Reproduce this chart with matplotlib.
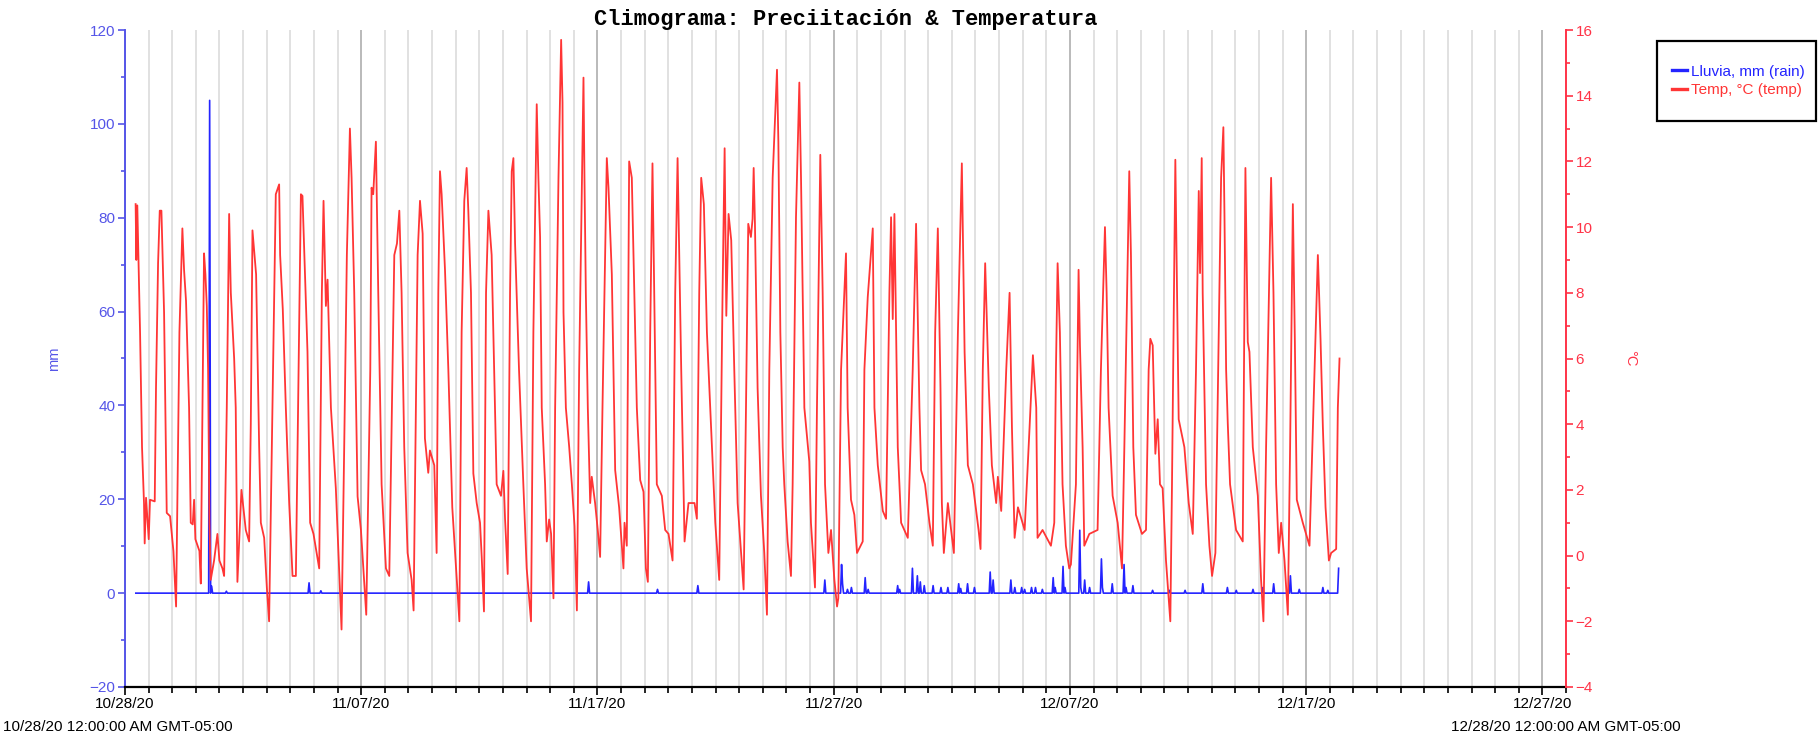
import numpy as np
import pandas as pd
import matplotlib
matplotlib.use("Agg")
import matplotlib.pyplot as plt
import matplotlib.dates as mdates
from matplotlib.patches import Rectangle
from matplotlib.ticker import MultipleLocator, FixedLocator
from matplotlib.lines import Line2D

# ---- data -------------------------------------------------------------
START = np.datetime64("2020-10-28T00:00")
END = np.datetime64("2020-12-28T00:00")

# temperature record: hours since 10/28/20 00:00 and degrees C
temp_hours = np.array([
    10.8, 11.5, 12.5, 15.3, 17.3, 19.3, 20.0, 21.4, 24.1, 25.4, 30.2,
    31.5, 33.6, 35.3, 37.0, 39.7, 41.0, 42.4, 45.8, 49.2, 51.9,
    55.3, 58.3, 60.0, 62.0, 65.1, 66.8, 68.8, 70.2, 71.5, 75.6, 77.0,
    78.3, 80.3, 81.7, 83.1, 84.4, 85.8, 87.1, 90.5, 93.9, 95.9, 99.0, 100.7,
    103.4, 105.8, 107.5, 110.9, 112.5, 114.2, 118.3, 122.7, 126.1,
    127.8, 129.5, 133.2, 136.3, 138.0, 141.4, 144.1, 146.4,
    149.8, 153.2, 156.6, 157.6, 160.3, 163.4, 166.8, 170.2, 173.6,
    176.5, 178.7, 180.3, 185.4, 188.1, 191.5, 197.3,
    200.0, 201.7, 204.1, 205.8, 209.2, 214.2, 217.6, 220.0,
    222.7, 225.4, 228.5, 230.2, 232.9, 236.3, 239.7, 243.7, 245.1,
    249.2, 250.5, 252.2, 254.9, 257.3, 260.7, 265.1, 268.5,
    273.6, 276.3, 278.7, 281.0, 283.7, 287.1, 291.2, 293.2,
    297.3, 299.7, 302.4, 304.7, 308.1, 309.8, 314.2, 316.6,
    318.3, 320.0, 321.7, 325.1, 328.5, 332.5, 335.9, 339.7,
    342.0, 344.7, 347.1, 348.8, 351.5, 353.9, 357.3, 360.7, 362.4, 364.7,
    366.8, 369.2, 372.5, 377.6, 382.0, 384.4, 386.1, 388.8,
    391.2, 392.9, 394.6, 396.3, 400.3, 404.7, 408.1, 412.5,
    414.9, 418.3, 420.0, 421.7, 423.4, 426.8, 428.5, 430.9, 432.9, 435.3,
    437.0, 440.4, 443.1, 444.5, 445.5, 447.9, 451.3, 454.0, 456.7, 459.1,
    461.4, 465.8, 466.8, 468.2, 470.2, 472.6, 474.2, 477.6, 480.3, 482.7,
    485.1, 489.5, 491.2, 494.6, 498.0, 502.0, 506.4, 507.5, 509.8,
    512.2, 514.9, 516.6, 520.0, 523.4, 526.8, 529.2, 531.2,
    533.6, 535.9, 537.3, 540.3, 545.4, 548.8, 552.2, 556.3,
    559.0, 561.4, 565.1, 568.5, 572.5, 578.6, 581.0,
    583.4, 585.4, 588.1, 591.2, 596.3, 599.7, 603.7,
    607.1, 609.2, 610.9, 613.2, 615.9, 619.0, 622.4, 625.1, 628.5,
    630.9, 633.2, 635.9, 637.6, 638.7, 640.0, 642.7, 646.1, 649.5, 652.2,
    654.6, 658.0, 662.4, 663.8, 665.8, 668.2, 669.8, 673.2, 676.6,
    678.3, 681.7, 685.1, 686.8, 690.2, 695.2, 696.9, 701.0,
    703.0, 706.4, 708.8, 711.2, 714.6, 717.3, 720.7, 723.4, 724.7,
    727.5, 732.5, 734.2, 737.6, 741.0, 743.7, 749.5,
    751.2, 754.6, 759.7, 761.4, 764.8, 769.9, 773.2,
    776.6, 778.3, 780.0, 781.7, 785.1, 788.5, 795.3,
    800.3, 803.7, 807.1, 808.8, 812.8, 817.3, 820.7,
    823.1, 825.8, 828.5, 829.9, 831.9, 836.0, 842.1,
    846.2, 850.2, 853.0, 856.3, 861.4, 867.2, 869.2,
    871.5, 873.9, 877.6, 880.7, 885.1, 886.8, 890.2,
    895.3, 898.7, 901.1, 903.8, 907.2, 914.0,
    919.0, 922.4, 925.8, 927.1, 932.2, 940.7, 944.1,
    945.8, 947.5, 949.8, 952.5, 955.9, 959.3, 961.0,
    966.1, 968.8, 970.2, 972.9, 974.6, 979.7, 988.1,
    991.5, 995.6, 997.3, 999.3, 1003.4, 1008.5, 1012.9,
    1015.3, 1020.3, 1022.0, 1024.4, 1027.1, 1033.2, 1037.3,
    1040.0, 1041.7, 1044.1, 1046.8, 1049.2, 1051.5, 1054.2, 1057.6, 1062.0,
    1063.7, 1067.1, 1068.8, 1070.5, 1076.3, 1080.7, 1084.8,
    1088.1, 1090.9, 1092.2, 1093.9, 1094.9, 1098.3, 1101.7, 1104.4, 1107.8,
    1111.9, 1113.6, 1115.9, 1117.0, 1118.7, 1120.4, 1122.7, 1128.8, 1135.6,
    1138.3, 1140.7, 1142.4, 1145.8, 1150.9, 1154.2, 1156.6,
    1159.3, 1164.4, 1166.8, 1169.5, 1172.2, 1174.6, 1178.0, 1181.4,
    1183.7, 1186.5, 1188.5, 1190.5, 1196.6, 1203.4,
    1208.5, 1211.9, 1214.6, 1217.0, 1219.7, 1223.1, 1225.4, 1230.5,
    1232.2, 1233.9,
])
temp_c = np.array([
    10.7, 9.0, 10.66, 6.8, 3.3, 1.6, 0.37, 1.76, 0.5, 1.7, 1.65,
    5.1, 8.9, 10.5, 10.5, 7.4, 4.5, 1.3, 1.2, 0.14, -1.55,
    6.8, 9.96, 8.7, 7.75, 4.5, 1.0, 0.95, 1.7, 0.5, 0.14, -0.85,
    3.3, 9.2, 8.56, 7.6, 5.7, 1.0, -0.74, -0.15, 0.66, -0.15, -0.39, -0.62,
    4.5, 10.4, 8.0, 6.0, 4.5, -0.8, 2.0, 0.78, 0.43,
    4.0, 9.9, 8.56, 3.3, 1.0, 0.54, -0.97, -2.0,
    4.5, 11.0, 11.3, 9.15, 7.5, 4.5, 1.6, -0.62, -0.62,
    6.0, 11.0, 10.95, 6.2, 1.0, 0.66, -0.39,
    8.0, 10.8, 7.6, 8.4, 4.5, 2.05, -0.5, -2.25,
    3.3, 9.15, 13.0, 11.5, 8.0, 1.8, 0.78, -1.1, -1.8,
    5.66, 11.2, 11.0, 12.6, 8.0, 2.17, -0.39, -0.62,
    9.15, 9.5, 10.5, 8.0, 3.3, 0.08, -0.74, -1.67,
    9.15, 10.8, 9.8, 3.57, 2.52, 3.2, 2.75, 0.08,
    8.0, 11.7, 11.0, 8.7, 5.66, 1.47, -0.15, -2.0,
    6.8, 10.8, 11.8, 10.5, 8.0, 2.5, 1.6, 1.0, -0.04, -1.7,
    8.0, 10.5, 9.15, 2.17, 1.82, 2.58, 1.12, -0.56,
    8.0, 11.7, 12.1, 9.5, 5.66, 2.17, -0.39, -2.0,
    6.8, 13.74, 11.5, 9.7, 4.5, 2.17, 0.43, 1.1, 0.66, -1.3,
    4.5, 11.5, 15.7, 13.8, 7.4, 4.5, 3.3, 2.17, 0.9, -1.67,
    5.66, 14.55, 11.5, 8.0, 4.5, 1.6, 2.4, 1.6, 0.78, -0.04,
    4.5, 12.1, 11.2, 8.56, 2.6, 1.47, -0.39, 1.0, 0.3,
    12.0, 11.5, 9.15, 4.5, 2.3, 1.94, -0.39, -0.8,
    6.8, 11.94, 8.9, 2.17, 1.82, 0.78, 0.66, -0.15,
    8.0, 12.1, 5.66, 0.43, 1.6, 1.6, 1.12,
    8.0, 11.5, 10.7, 6.8, 3.3, 1.0, -0.74,
    8.0, 12.4, 7.3, 10.4, 9.6, 5.66, 1.6, 0.43, -1.03,
    4.5, 10.1, 9.7, 10.25, 11.8, 10.1, 5.1, 1.82, 0.08, -1.8,
    5.66, 11.5, 14.79, 12.6, 6.8, 3.3, 2.17, 0.43, -0.62,
    2.17, 10.3, 14.4, 11.5, 4.5, 2.87, 1.0, -0.97,
    4.5, 12.2, 8.0, 2.17, 0.08, 0.78, -0.74, -1.55, -1.3,
    5.66, 9.2, 4.5, 1.7, 1.24, 0.08, 0.43,
    5.66, 7.87, 9.96, 4.5, 2.75, 1.36, 1.12,
    8.0, 10.3, 7.2, 10.4, 3.3, 1.0, 0.54,
    5.66, 10.1, 4.5, 2.6, 2.17, 1.0, 0.3,
    6.8, 9.96, 5.1, 1.6, 0.08, 1.6, 0.08,
    6.8, 11.94, 6.2, 2.75, 2.17, 0.78, 0.2,
    5.66, 8.9, 5.1, 2.75, 1.6, 2.4, 1.36,
    5.66, 8.0, 3.9, 0.54, 1.47, 0.78,
    3.9, 6.1, 4.5, 0.54, 0.78, 0.3, 1.0,
    5.66, 8.9, 6.8, 2.17, 0.3, -0.39, -0.27,
    2.17, 8.7, 6.4, 3.3, 0.3, 0.66, 0.78,
    5.66, 10.0, 8.0, 4.5, 1.82, 1.0, -0.39,
    3.3, 11.7, 9.15, 3.3, 1.24, 0.66, 0.78,
    5.66, 6.6, 6.4, 3.1, 4.15, 2.17, 2.05, -0.15, -2.0,
    2.17, 12.05, 8.0, 4.15, 3.3, 1.6, 0.66,
    5.66, 11.1, 8.6, 12.1, 8.0, 2.17, 0.3, -0.62, 0.08,
    8.0, 11.5, 13.04, 10.4, 5.66, 4.0, 2.17, 0.78, 0.43,
    11.8, 6.5, 6.2, 3.3, 1.82, -0.74, -2.0,
    3.3, 11.5, 8.0, 2.17, 0.08, 1.0, -0.15, -1.8,
    3.3, 10.7, 6.6, 1.7, 1.0, 0.3,
    5.66, 9.15, 6.6, 3.9, 1.47, -0.15, 0.08, 0.2,
    4.5, 6.0,
])

# hourly rainfall: hours with recorded rain (all other hours are 0 mm)
rain_first_hour = 11
rain_last_hour = 1233
rain_event_hours = [
    86, 88, 103, 187, 199, 471, 541, 582, 711, 728, 729, 734, 738, 752,
    755, 785, 787, 800, 805, 808, 812, 821, 829, 836, 847, 849, 856, 863,
    879, 882, 900, 904, 911, 914, 921, 925, 932, 943, 945, 953, 955, 970,
    971, 975, 980, 992, 993, 1003, 1015, 1017, 1024, 1044, 1061, 1077,
    1095, 1120, 1129, 1146, 1156, 1167, 1184, 1193, 1217, 1222, 1233,
]
rain_event_mm = [
    105.0, 1.5, 0.4, 2.2, 0.5, 2.4, 0.8, 1.6, 2.8, 6.1, 2.0, 0.8, 1.2, 3.3,
    0.8, 1.6, 0.8, 5.3, 3.7, 2.4, 1.6, 1.6, 1.2, 1.2, 2.0, 1.0, 2.0, 1.2,
    4.5, 2.8, 2.8, 1.2, 1.2, 0.8, 1.2, 1.2, 0.8, 3.3, 1.2, 5.7, 1.2, 13.4,
    1.2, 2.8, 1.2, 7.3, 1.2, 2.0, 6.1, 1.2, 1.6, 0.6, 0.6, 0.6,
    2.0, 1.2, 0.6, 0.8, 1.2, 2.0, 3.7, 0.8, 1.2, 0.6, 5.3,
]

major_dates = pd.date_range("2020-10-28", "2020-12-27", freq="10D")
minor_dates = pd.date_range("2020-10-28", "2020-12-28", freq="D")

# ---- series -----------------------------------------------------------
def hours_to_time(h):
    return START + (np.asarray(h) * 3600).astype("timedelta64[s]")

rain_hours = np.arange(rain_first_hour, rain_last_hour + 1)
rain_mm = np.zeros(rain_hours.size)
for h, v in zip(rain_event_hours, rain_event_mm):
    rain_mm[h - rain_first_hour] = v

temp_time = hours_to_time(temp_hours)
rain_time = hours_to_time(rain_hours)

# ---- styling ----------------------------------------------------------
BLUE = "#2424ff"
BLUE_AX = "#5555e8"
RED = "#ff3535"
RED_AX = "#ff3347"
FONT = "Liberation Sans"
plt.rcParams["font.family"] = [FONT, "DejaVu Sans"]

W, H = 1819, 738
fig = plt.figure(figsize=(W / 100, H / 100), dpi=100)
L, R, T, B = 125, 1566, 30, 687
ax = fig.add_axes([L / W, 1 - B / H, (R - L) / W, (B - T) / H])
ax2 = ax.twinx()

ax.plot(rain_time, rain_mm, color=BLUE, lw=1.2, zorder=3)
ax2.plot(temp_time, temp_c, color=RED, lw=1.3, zorder=3)

ax.set_xlim(START, END)
ax.set_ylim(-20, 120)
ax2.set_ylim(-4, 16)

# x axis: daily grid, labelled every ten days
ax.xaxis.set_major_locator(FixedLocator(mdates.date2num(major_dates.to_pydatetime())))
ax.xaxis.set_minor_locator(FixedLocator(mdates.date2num(minor_dates.to_pydatetime())))
ax.xaxis.set_major_formatter(mdates.DateFormatter("%m/%d/%y"))
ax.grid(which="minor", axis="x", color="#dcdcdc", lw=1.2, zorder=0)
ax.grid(which="major", axis="x", color="#b4b4b4", lw=1.3, zorder=0)
ax.tick_params(axis="x", which="major", length=6, width=1.2, color="black",
               labelsize=11, pad=1.5)
ax.tick_params(axis="x", which="minor", length=4, width=1.2, color="black")

# left axis: rainfall
ax.yaxis.set_major_locator(MultipleLocator(20))
ax.yaxis.set_minor_locator(MultipleLocator(10))
ax.tick_params(axis="y", which="major", length=5, width=1.2, color=BLUE_AX,
               labelcolor=BLUE_AX, labelsize=11, pad=2)
ax.tick_params(axis="y", which="minor", length=3, width=1.2, color=BLUE_AX)
ax.set_ylabel("mm", color=BLUE_AX, fontsize=10.5)
ax.yaxis.set_label_coords((61 - L) / (R - L), 0.5)

# right axis: temperature
ax2.yaxis.set_major_locator(MultipleLocator(2))
ax2.yaxis.set_minor_locator(MultipleLocator(1))
ax2.tick_params(axis="y", which="major", length=5, width=1.2, color=RED_AX,
                labelcolor=RED_AX, labelsize=11, pad=2)
ax2.tick_params(axis="y", which="minor", length=3, width=1.2, color=RED_AX)
ax2.set_ylabel("°C", color=RED_AX, fontsize=10.5, rotation=270, va="center")
ax2.yaxis.set_label_coords((1630 - L) / (R - L), 0.5)

for a in (ax, ax2):
    a.spines["top"].set_visible(False)
ax.spines["right"].set_visible(False)
ax2.spines["left"].set_visible(False)
ax2.spines["bottom"].set_visible(False)
ax.spines["left"].set_color(BLUE_AX)
ax.spines["left"].set_linewidth(1.4)
ax.spines["bottom"].set_color("black")
ax.spines["bottom"].set_linewidth(1.6)
ax2.spines["right"].set_color(RED_AX)
ax2.spines["right"].set_linewidth(1.4)

# title
fig.text((L + R) / 2 / W, 1 - 19 / H, "Climograma: Preciitación & Temperatura",
         ha="center", va="center", family="Liberation Mono", weight="bold",
         fontsize=15.8, color="black")

# range annotations under the time axis
fig.text(3 / W, 1 - 727 / H, "10/28/20 12:00:00 AM GMT-05:00",
         ha="left", va="center", fontsize=11, color="black")
fig.text(R / W, 1 - 727 / H, "12/28/20 12:00:00 AM GMT-05:00",
         ha="center", va="center", fontsize=11, color="black")

# legend box
lx0, ly0, lx1, ly1 = 1657, 41, 1816, 121
fig.patches.append(Rectangle((lx0 / W, 1 - ly1 / H), (lx1 - lx0) / W, (ly1 - ly0) / H,
                             transform=fig.transFigure, facecolor="white",
                             edgecolor="black", lw=1.6, zorder=5))
handles = [Line2D([], [], color=BLUE, lw=2.4), Line2D([], [], color=RED, lw=2.4)]
leg = fig.legend(handles, ["Lluvia, mm (rain)", "Temp, °C (temp)"],
                 loc="center", bbox_to_anchor=((lx0 + lx1) / 2 / W + 0.001, 1 - (ly0 + ly1) / 2 / H),
                 frameon=False, fontsize=11, handlelength=1.0, handletextpad=0.25,
                 labelspacing=0.3, borderpad=0.0)
leg.set_zorder(6)
for txt, col in zip(leg.get_texts(), [BLUE, RED]):
    txt.set_color(col)

fig.savefig("out.png", dpi=100)
